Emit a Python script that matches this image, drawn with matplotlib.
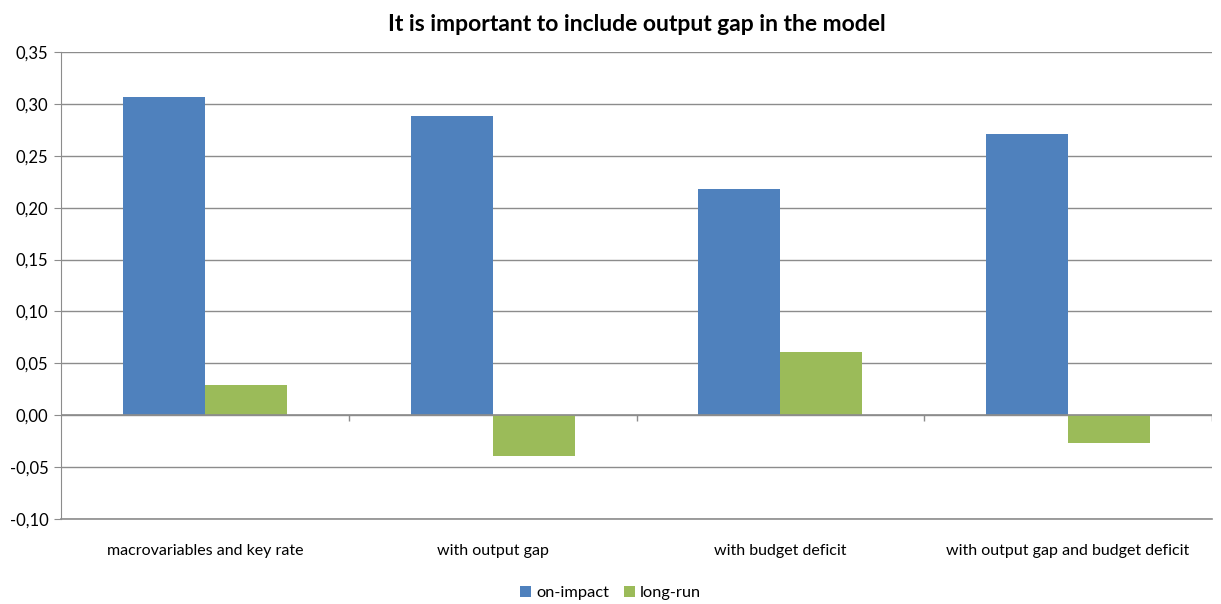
import matplotlib
matplotlib.use("Agg")
import matplotlib.pyplot as plt
import numpy as np
from matplotlib.ticker import FuncFormatter

categories = [
    "macrovariables and key rate",
    "with output gap",
    "with budget deficit",
    "with output gap and budget deficit",
]
on_impact = [0.307, 0.288, 0.218, 0.271]
long_run = [0.029, -0.039, 0.061, -0.027]
y_ticks = [-0.10, -0.05, 0.00, 0.05, 0.10, 0.15, 0.20, 0.25, 0.30, 0.35]

plt.rcParams["font.family"] = ["Lato", "DejaVu Sans"]

blue = "#4F81BD"
green = "#9BBB59"
grid = "#8C8C8C"

fig = plt.figure(figsize=(12.21, 6.04), dpi=100)
ax = fig.add_axes([0.050, 0.1407, 0.9426, 0.7732])

x = np.arange(len(categories))
w = 0.285
ax.bar(x - w / 2, on_impact, w, color=blue, label="on-impact", zorder=3)
ax.bar(x + w / 2, long_run, w, color=green, label="long-run", zorder=3)

ax.set_xlim(-0.5, len(categories) - 0.5)
ax.set_ylim(-0.10, 0.35)
ax.set_yticks(y_ticks)
ax.yaxis.set_major_formatter(FuncFormatter(lambda v, p: f"{v:.2f}".replace(".", ",")))
ax.grid(axis="y", color=grid, linewidth=1, zorder=0)
ax.axhline(0, color=grid, linewidth=1.2, zorder=4)
ax.axhline(-0.10, color=grid, linewidth=1.2, zorder=4, clip_on=False)

# category boundary tick marks on the zero line
bounds = np.arange(len(categories)) + 0.5
ax.vlines(bounds, -0.006, 0, color=grid, linewidth=1, zorder=4)

ax.set_xticks(x)
ax.set_xticklabels(categories, fontsize=11.5)
ax.tick_params(axis="x", length=0, pad=18)
ax.tick_params(axis="y", length=5, color=grid, labelsize=12, pad=4)

for s in ["top", "right", "bottom"]:
    ax.spines[s].set_visible(False)
ax.spines["left"].set_color(grid)

ax.set_title("It is important to include output gap in the model",
             fontsize=16.5, fontweight="bold", pad=15)

fig.legend(loc="lower center", bbox_to_anchor=(0.5, -0.018), ncol=2, frameon=False,
           fontsize=11.8, handlelength=0.7, handleheight=0.7, columnspacing=0.9,
           handletextpad=0.3)

fig.savefig("out.png", dpi=100)
